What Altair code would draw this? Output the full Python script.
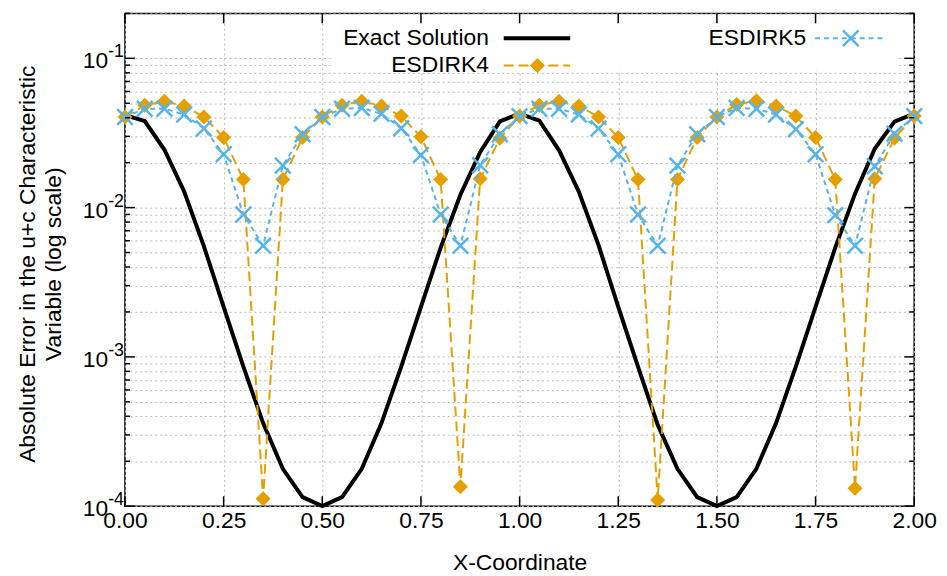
import altair as alt
import pandas as pd

# ---------------- data ----------------
x_coord = [0.00, 0.05, 0.10, 0.15, 0.20, 0.25, 0.30, 0.35, 0.40, 0.45,
           0.50, 0.55, 0.60, 0.65, 0.70, 0.75, 0.80, 0.85, 0.90, 0.95,
           1.00, 1.05, 1.10, 1.15, 1.20, 1.25, 1.30, 1.35, 1.40, 1.45,
           1.50, 1.55, 1.60, 1.65, 1.70, 1.75, 1.80, 1.85, 1.90, 1.95, 2.00]

exact_solution = [0.0416, 0.0380, 0.0244, 0.0128, 0.0055, 0.00216, 0.00086, 0.00036, 0.000178, 0.000115,
                  0.000100, 0.000115, 0.000178, 0.00036, 0.00086, 0.00216, 0.0054, 0.0122, 0.0235, 0.0378,
                  0.0426, 0.0382, 0.0242, 0.0128, 0.0056, 0.00216, 0.00086, 0.00035, 0.000178, 0.000115,
                  0.000100, 0.000115, 0.000178, 0.00036, 0.00086, 0.00216, 0.0054, 0.0124, 0.0248, 0.0377, 0.0426]

esdirk4 = [0.0405, 0.0485, 0.0515, 0.0480, 0.0405, 0.0295, 0.0154, 0.000112, 0.0154, 0.0295,
           0.0405, 0.0485, 0.0515, 0.0480, 0.0410, 0.0298, 0.0154, 0.000135, 0.0156, 0.0291,
           0.0410, 0.0485, 0.0515, 0.0480, 0.0405, 0.0295, 0.0154, 0.000110, 0.0154, 0.0295,
           0.0405, 0.0490, 0.0520, 0.0480, 0.0410, 0.0295, 0.0154, 0.000132, 0.0156, 0.0291, 0.0410]

esdirk5 = [0.0405, 0.0460, 0.0460, 0.0420, 0.0339, 0.0228, 0.0090, 0.00555, 0.0191, 0.0310,
           0.0405, 0.0460, 0.0465, 0.0425, 0.0340, 0.0225, 0.0090, 0.00555, 0.0192, 0.0310,
           0.0410, 0.0460, 0.0460, 0.0420, 0.0339, 0.0228, 0.0090, 0.00555, 0.0191, 0.0310,
           0.0405, 0.0465, 0.0460, 0.0420, 0.0335, 0.0228, 0.0089, 0.00555, 0.0189, 0.0312, 0.0410]

series_names = ["Exact Solution", "ESDIRK4", "ESDIRK5"]

x_ticks = [0.0, 0.25, 0.5, 0.75, 1.0, 1.25, 1.5, 1.75, 2.0]
y_decades = [1e-1, 1e-2, 1e-3, 1e-4]
y_bases = ["10", "10", "10", "10"]
y_exponents = ["-1", "-2", "-3", "-4"]
y_minor = [2e-4, 3e-4, 4e-4, 5e-4, 6e-4, 7e-4, 8e-4, 9e-4,
           2e-3, 3e-3, 4e-3, 5e-3, 6e-3, 7e-3, 8e-3, 9e-3,
           2e-2, 3e-2, 4e-2, 5e-2, 6e-2, 7e-2, 8e-2, 9e-2, 2e-1]

y_title = ["Absolute Error in the u+c Characteristic", "Variable (log scale)"]
x_title = "X-Coordinate"

# ---------------- styling ----------------
W, H = 796, 497
FONT = "Liberation Sans"
FS = 23
ORANGE = "#E69F00"
BLUE = "#56B4E9"
GRID = "#b8b8b8"
XMARK = "M-1,-1L1,1M-1,1L1,-1"

df_exact = pd.DataFrame({"x": x_coord, "y": exact_solution})
df_e4 = pd.DataFrame({"x": x_coord, "y": esdirk4})
df_e5 = pd.DataFrame({"x": x_coord, "y": esdirk5})
legend_df = pd.DataFrame({"name": series_names})
xt_df = pd.DataFrame({"x": x_ticks})
ymaj_df = pd.DataFrame({"y": y_decades, "base": y_bases, "exp": y_exponents})
ymin_df = pd.DataFrame({"y": y_minor})

xscale = alt.Scale(domain=[0, 2], nice=False, zero=False)
yscale = alt.Scale(type="log", domain=[1e-4, 0.2], nice=False)

X = alt.X("x:Q", scale=xscale, title=x_title, axis=alt.Axis(
    values=x_ticks, format=".2f", title=x_title,
    labelFont=FONT, labelFontSize=FS, labelColor="black", labelPadding=4,
    labelFlush=False, labelOverlap=False,
    ticks=False, domain=False,
    grid=True, gridColor=GRID, gridDash=[2, 3], gridWidth=1,
    titleFont=FONT, titleFontSize=FS, titleFontWeight="normal", titleColor="black",
    titleY=46))
Y = alt.Y("y:Q", scale=yscale, title=y_title, axis=alt.Axis(
    values=y_decades + y_minor, labels=False, ticks=False, domain=False,
    grid=True, gridColor=GRID, gridDash=[2, 3], gridWidth=1,
    title=y_title, titleFont=FONT, titleFontSize=FS, titleFontWeight="normal",
    titleColor="black", titleX=-86, titleY=H / 2 + 4, titleAngle=270,
    titleBaseline="bottom", titleAlign="center", titleLineHeight=26))

# opaque key box (hides grid behind the key)
key_box = alt.Chart(legend_df).transform_filter(alt.datum.name == "ESDIRK4").mark_rect(
    color="white", opacity=1).encode(
    x=alt.value(209), x2=alt.value(779), y=alt.value(1), y2=alt.value(57))

exact_line = alt.Chart(df_exact).mark_line(color="black", strokeWidth=4).encode(x=X, y=Y)

e4_line = alt.Chart(df_e4).mark_line(color=ORANGE, strokeWidth=2, strokeDash=[10, 5]).encode(x=X, y=Y)
e4_pts = alt.Chart(df_e4).mark_point(shape="diamond", filled=True, size=230, color=ORANGE, opacity=1).encode(x=X, y=Y)

e5_line = alt.Chart(df_e5).mark_line(color=BLUE, strokeWidth=2, strokeDash=[5, 4]).encode(x=X, y=Y)
e5_pts = alt.Chart(df_e5).mark_point(shape=XMARK, filled=False, size=250, color=BLUE,
                                      strokeWidth=2.5, opacity=1).encode(x=X, y=Y)

# inward ticks on all four sides
tick_style = dict(color="black", strokeWidth=1.5)
xt_bottom = alt.Chart(xt_df).mark_rule(**tick_style).encode(x=X, y=alt.value(H), y2=alt.value(H - 10))
xt_top = alt.Chart(xt_df).mark_rule(**tick_style).encode(x=X, y=alt.value(0), y2=alt.value(10))
yt_left = alt.Chart(ymaj_df).mark_rule(**tick_style).encode(y=Y, x=alt.value(0), x2=alt.value(10))
yt_right = alt.Chart(ymaj_df).mark_rule(**tick_style).encode(y=Y, x=alt.value(W), x2=alt.value(W - 10))
ym_left = alt.Chart(ymin_df).mark_rule(**tick_style).encode(y=Y, x=alt.value(0), x2=alt.value(5))
ym_right = alt.Chart(ymin_df).mark_rule(**tick_style).encode(y=Y, x=alt.value(W), x2=alt.value(W - 5))

# y tick labels 10^k
ylab_base = alt.Chart(ymaj_df).mark_text(font=FONT, fontSize=FS, align="right", baseline="middle",
                                          color="black", dy=3).encode(
    y=Y, x=alt.value(-17), text="base:N")
ylab_exp = alt.Chart(ymaj_df).mark_text(font=FONT, fontSize=18, align="left", baseline="middle",
                                         color="black", dy=-6).encode(
    y=Y, x=alt.value(-17), text="exp:N")

# key
def key_text(name, xr, yv):
    return alt.Chart(legend_df).transform_filter(alt.datum.name == name).mark_text(
        font=FONT, fontSize=FS, align="right", baseline="middle", color="black").encode(
        x=alt.value(xr), y=alt.value(yv), text="name:N")

k1_text = key_text("Exact Solution", 367, 25)
k1_line = alt.Chart(legend_df).transform_filter(alt.datum.name == "Exact Solution").mark_rule(
    color="black", strokeWidth=4).encode(x=alt.value(382), x2=alt.value(449), y=alt.value(25))
k2_text = key_text("ESDIRK4", 367, 52.6)
k2_line = alt.Chart(legend_df).transform_filter(alt.datum.name == "ESDIRK4").mark_rule(
    color=ORANGE, strokeWidth=2, strokeDash=[10, 5]).encode(x=alt.value(382), x2=alt.value(449), y=alt.value(52.6))
k2_pt = alt.Chart(legend_df).transform_filter(alt.datum.name == "ESDIRK4").mark_point(
    shape="diamond", filled=True, size=230, color=ORANGE, opacity=1).encode(x=alt.value(416), y=alt.value(52.6))
k3_text = key_text("ESDIRK5", 687, 25)
k3_line = alt.Chart(legend_df).transform_filter(alt.datum.name == "ESDIRK5").mark_rule(
    color=BLUE, strokeWidth=2, strokeDash=[5, 4]).encode(x=alt.value(696), x2=alt.value(765), y=alt.value(25))
k3_pt = alt.Chart(legend_df).transform_filter(alt.datum.name == "ESDIRK5").mark_point(
    shape=XMARK, filled=False, size=250, color=BLUE, strokeWidth=2.5, opacity=1).encode(
    x=alt.value(732), y=alt.value(25))

chart = alt.layer(
    exact_line, key_box,
    e4_line, e4_pts, e5_line, e5_pts,
    xt_bottom, xt_top, yt_left, yt_right, ym_left, ym_right,
    ylab_base, ylab_exp,
    k1_text, k1_line, k2_text, k2_line, k2_pt, k3_text, k3_line, k3_pt,
).properties(
    width=W, height=H,
    autosize=alt.AutoSizeParams(type="none"),
    padding={"left": 118, "top": 3, "right": 25, "bottom": 66},
    background="white",
).configure_view(stroke="black", strokeWidth=1.5)

chart.save("out.html", embed_options={"renderer": "svg", "actions": False})
